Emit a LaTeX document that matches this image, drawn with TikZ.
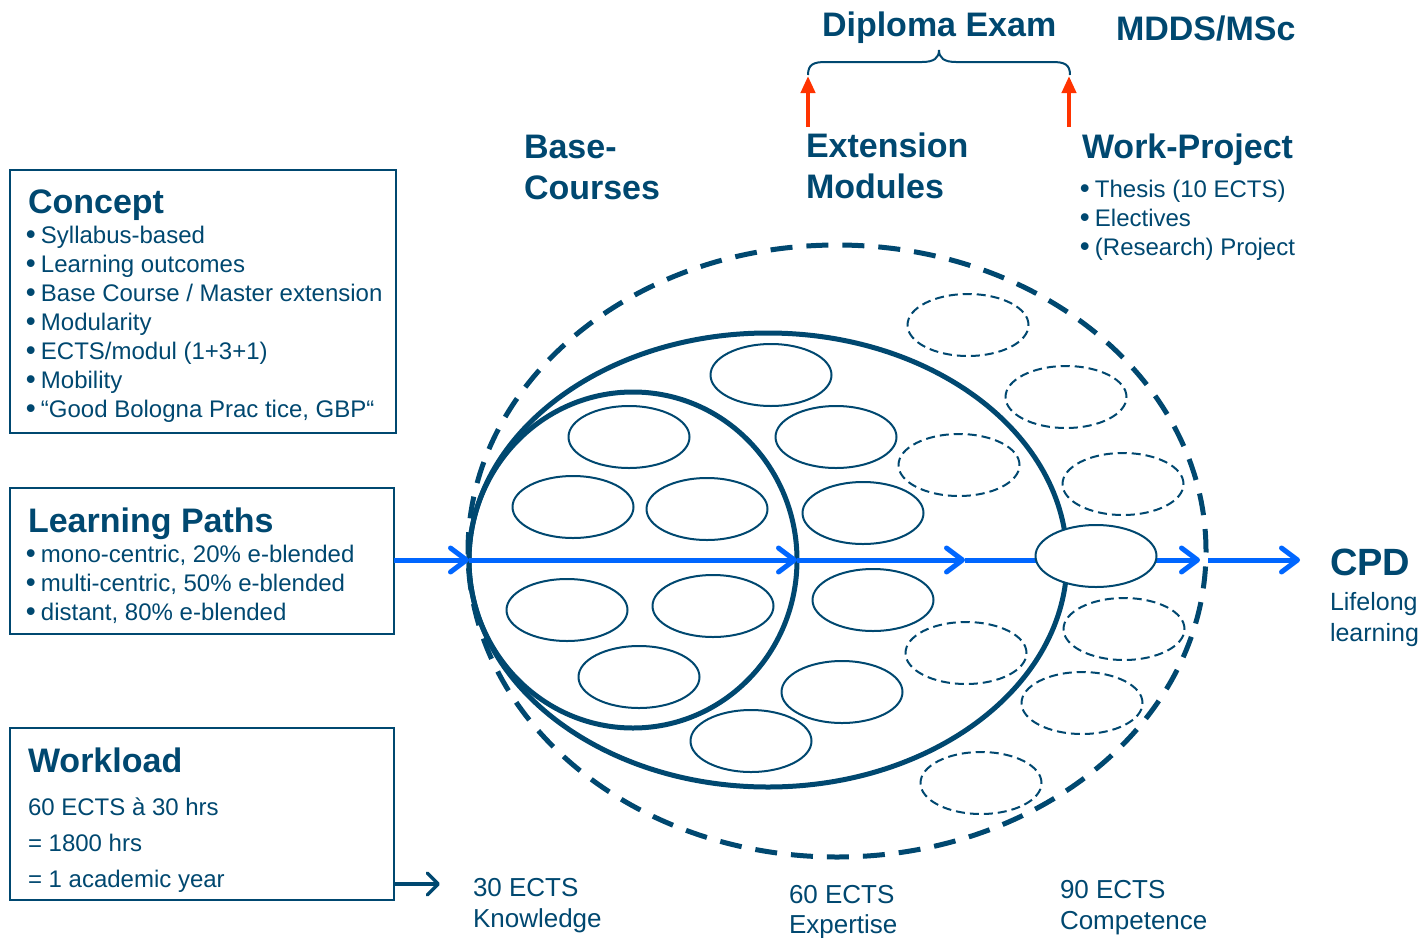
\documentclass[tikz,border=0pt]{standalone}
\usepackage{fontspec}
\setmainfont{Liberation Sans}
\usetikzlibrary{arrows.meta,shapes.geometric}
\definecolor{dk}{RGB}{0,72,112}
\definecolor{bl}{RGB}{0,102,255}
\definecolor{rd}{RGB}{255,51,0}
\newcommand{\bul}{{\fontsize{27}{29}\selectfont\bfseries •}\hspace{5.5pt}}
\begin{document}
\begin{tikzpicture}[x=1pt,y=-1pt,
  every node/.style={inner sep=0pt,outer sep=0pt,text=dk},
  title/.style={font=\fontsize{34}{40}\selectfont\bfseries,anchor=base west},
  body/.style={font=\fontsize{24}{29}\selectfont,anchor=base west},
  lab/.style={font=\fontsize{26}{31}\selectfont,anchor=base west},
  boxst/.style={draw=dk,line width=2pt,rectangle,anchor=north west},
  sm/.style={ellipse,draw=dk,line width=2pt,minimum width=121pt,minimum height=62pt},
  smd/.style={sm,dash pattern=on 9pt off 5pt},
  big/.style={ellipse,draw=dk,line width=5pt},
  blarrow/.style={draw=bl,line width=5pt,-{Straight Barb[length=16pt,width=24pt,round]}},
  dkarrow/.style={draw=dk,line width=3.5pt,-{Straight Barb[length=11pt,width=22pt,round]}},
  rdarrow/.style={draw=rd,line width=4pt,-{Triangle[length=17pt,width=14pt]}}
]
\fill[white] (0,0) rectangle (1424,937);
\useasboundingbox (0,0) rectangle (1424,937);

% boxes
\node[boxst,minimum width=386pt,minimum height=263pt] (concept) at (10,170) {};
\node[boxst,minimum width=384pt,minimum height=146pt] (lp) at (10,488) {};
\node[boxst,minimum width=384pt,minimum height=172pt] (work) at (10,728) {};

% concept text
\node[title] (tconcept) at (28,213) {Concept};
\foreach \t [count=\i] in {{Syllabus-based},{Learning outcomes},{Base Course / Master extension},{Modularity},{ECTS/modul (1+3+1)},{Mobility},{“Good Bologna Prac tice, GBP“}}
  \node[body] (cb\i) at (26,{243+29*(\i-1)}) {\bul\t};

% learning paths
\node[title] (tlp) at (28,532) {Learning Paths};
\foreach \t [count=\i] in {{mono-centric, 20\% e-blended},{multi-centric, 50\% e-blended},{distant, 80\% e-blended}}
  \node[body] (lb\i) at (26,{562+29*(\i-1)}) {\bul\t};

% workload
\node[title] (twl) at (28,772) {Workload};
\node[body] (w1) at (28,815) {60 ECTS à 30 hrs};
\node[body] (w2) at (28,851) {= 1800 hrs};
\node[body] (w3) at (28,887) {= 1 academic year};

% headings
\node[title] (base1) at (524,158) {Base-};
\node[title] (base2) at (524,199) {Courses};
\node[title] (ext1) at (806,157) {Extension};
\node[title] (ext2) at (806,198) {Modules};
\node[title] (wp) at (1082,158) {Work-Project};
\node[body] (wb1) at (1080,197) {\bul Thesis (10 ECTS)};
\node[body] (wb2) at (1080,226) {\bul Electives};
\node[body] (wb3) at (1080,255) {\bul (Research) Project};
\node[title] (dip) at (822,36) {Diploma Exam};
\node[title] (mdds) at (1116,40) {MDDS/MSc};
\node[font=\fontsize{38}{44}\selectfont\bfseries,anchor=base west] (cpd) at (1330,575) {CPD};
\node[font=\fontsize{25}{30}\selectfont,anchor=base west] (ll1) at (1330,610) {Lifelong};
\node[font=\fontsize{25}{30}\selectfont,anchor=base west] (ll2) at (1330,641) {learning};

% bottom labels
\node[lab] (e30a) at (473,896) {30 ECTS};
\node[lab] (e30b) at (473,927) {Knowledge};
\node[lab] (e60a) at (789,903) {60 ECTS};
\node[lab] (e60b) at (789,933) {Expertise};
\node[lab] (e90a) at (1060,898) {90 ECTS};
\node[lab] (e90b) at (1060,929) {Competence};

% brace and red arrows
\coordinate (brl) at (808,75);
\coordinate (brr) at (1070,75);
\draw[dk,line width=2pt] (brl) .. controls (808,64) and (814,62) .. (826,62) -- (922,62)
  .. controls (934,62) and (939,58) .. (939,50) .. controls (939,58) and (944,62) .. (956,62)
  -- (1052,62) .. controls (1064,62) and (1070,64) .. (brr);
\coordinate (ra1) at (808,127);
\coordinate (ra2) at (1069,127);
\draw[rdarrow] (ra1) -- (808,76);
\draw[rdarrow] (ra2) -- (1069,76);

% ellipses
\node[big,dash pattern=on 22pt off 14pt,minimum width=738pt,minimum height=612pt] (outer) at (837,551) {};
\node[big,minimum width=598pt,minimum height=454pt] (mid) at (768,560) {};
\node[big,minimum width=328pt,minimum height=336pt] (inner) at (633,560) {};

\foreach \p [count=\i] in {(771,375),(836,437),(629,437),(573,507),(707,509),(863,513),(567,610),(713,606),(873,600),(639,677),(842,692),(751,741)}
  \node[sm] (s\i) at \p {};
\foreach \p [count=\i] in {(968,325),(1066,397),(959,465),(1123,484),(1124,629),(966,653),(1082,703),(981,783)}
  \node[smd] (d\i) at \p {};

% blue path
\coordinate (t3) at (965,560);
\coordinate (t4) at (1200,560);
\coordinate (t5) at (1208,560);
\coordinate (t6) at (1300,560);
\draw[blarrow] (lp.east |- inner.west) -- (inner.west);
\draw[blarrow] (inner.west) -- (inner.east);
\draw[blarrow] (inner.east) -- (t3);
\draw[blarrow] (t3) -- (t4);
\draw[blarrow] (t5) -- (t6);
\node[sm,fill=white] (wpe) at (1096,556) {};

% workload arrow
\coordinate (wl) at (440,884);
\draw[dkarrow] (work.east |- wl) -- (wl);
\end{tikzpicture}
\end{document}
